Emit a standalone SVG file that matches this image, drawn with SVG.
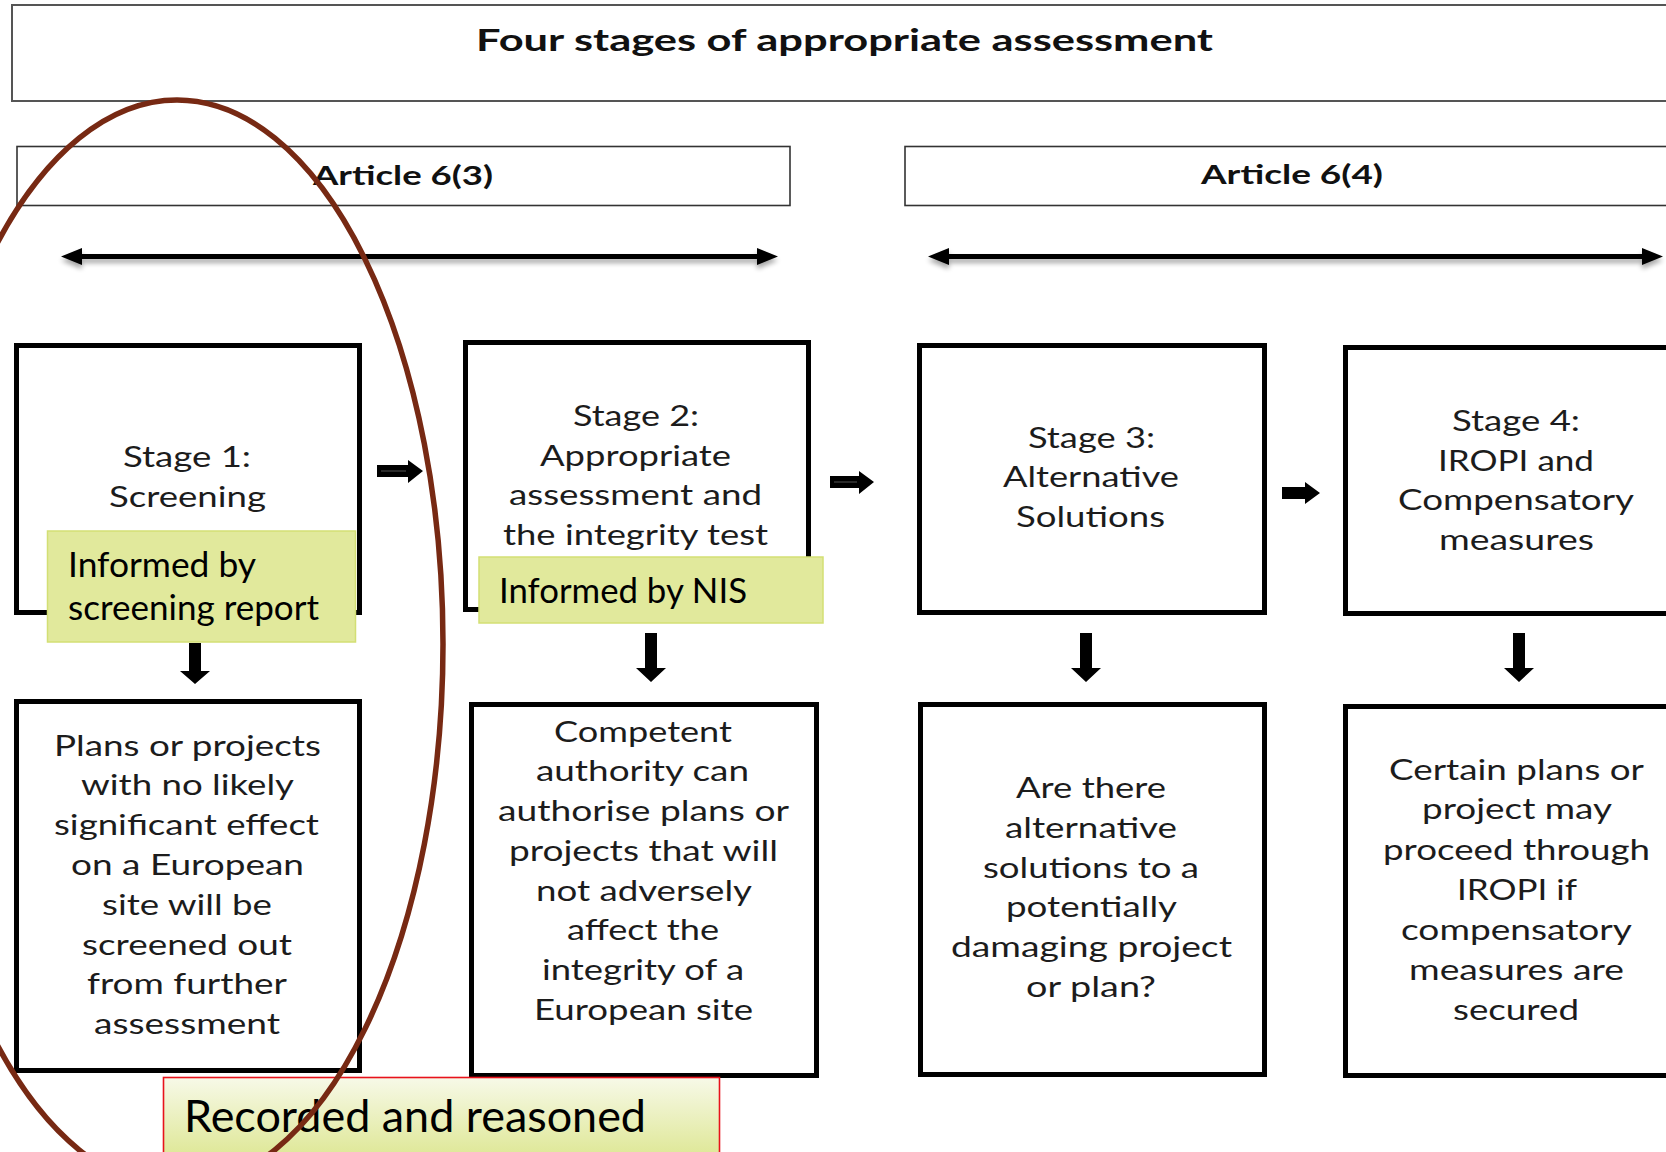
<svg xmlns="http://www.w3.org/2000/svg" width="1666" height="1152" viewBox="0 0 1666 1152">
<defs>
<style>
.frame{fill:#fff;stroke:#555;stroke-width:2}
.art{fill:#fff;stroke:#333;stroke-width:1.6}
.box{fill:#fff;stroke:#000;stroke-width:5}
.t{font-family:Lato,"Open Sans","Liberation Sans",sans-serif;font-size:28px;fill:#1c1c1c}
.b{font-family:Lato,"Open Sans","Liberation Sans",sans-serif;font-weight:bold;fill:#111}
.g{font-family:Lato,"Open Sans","Liberation Sans",sans-serif;fill:#000}
.note{fill:#e1e99c;stroke:#d3df74;stroke-width:1.5}
.arr{fill:#000}
</style>
<linearGradient id="grad" x1="0" y1="0" x2="0" y2="1">
<stop offset="0" stop-color="#f7f9e8"/>
<stop offset="1" stop-color="#dbe58b"/>
</linearGradient>
<filter id="sh" x="-5%" y="-100%" width="110%" height="300%">
<feGaussianBlur in="SourceAlpha" stdDeviation="2.5"/>
<feOffset dy="4" result="o"/>
<feComponentTransfer><feFuncA type="linear" slope="0.35"/></feComponentTransfer>
<feMerge><feMergeNode/><feMergeNode in="SourceGraphic"/></feMerge>
</filter>
</defs>
<rect width="1666" height="1152" fill="#fff"/>

<g id="title">
<rect class="frame" x="12" y="5" width="1670" height="96"/>
<text class="b" x="476" y="51" font-size="31" textLength="737" lengthAdjust="spacingAndGlyphs">Four stages of appropriate assessment</text>
</g>

<g id="article63">
<rect class="art" x="17" y="146.5" width="773" height="59"/>
<text class="b" x="313" y="185" font-size="26" textLength="180" lengthAdjust="spacingAndGlyphs">Article 6(3)</text>
</g>
<g id="article64">
<rect class="art" x="905" y="146.5" width="780" height="59"/>
<text class="b" x="1201" y="184" font-size="26" textLength="182" lengthAdjust="spacingAndGlyphs">Article 6(4)</text>
</g>

<g id="connectors">
<g filter="url(#sh)">
<line x1="76" y1="256.5" x2="764" y2="256.5" stroke="#000" stroke-width="5"/>
<polygon class="arr" points="61,256.5 82,248 82,265"/>
<polygon class="arr" points="778,256.5 757,248 757,265"/>
<line x1="943" y1="256.5" x2="1648" y2="256.5" stroke="#000" stroke-width="5"/>
<polygon class="arr" points="928,256.5 949,248 949,265"/>
<polygon class="arr" points="1663,256.5 1642,248 1642,265"/>
</g>
<polygon class="arr" points="377,465 408,465 408,460 423,471 408,483 408,477 377,477"/>
<line x1="381" y1="471" x2="406" y2="471" stroke="#555" stroke-width="1"/>
<polygon class="arr" points="830,476 859,476 859,471 874,482 859,494 859,488 830,488"/>
<line x1="834" y1="482" x2="857" y2="482" stroke="#555" stroke-width="1"/>
<polygon class="arr" points="1282,487 1305,487 1305,482 1320,493 1305,504 1305,499 1282,499"/>
<polygon class="arr" points="189,643 201,643 201,671 210,671 195,684 180,671 189,671"/>
<polygon class="arr" points="645,633 657,633 657,668 666,668 651,682 636,668 645,668"/>
<polygon class="arr" points="1080,633 1092,633 1092,668 1101,668 1086,682 1071,668 1080,668"/>
<polygon class="arr" points="1513,633 1525,633 1525,668 1534,668 1519,682 1504,668 1513,668"/>
</g>

<g id="stage1">
<rect class="box" x="16.5" y="345.5" width="343" height="267"/>
<text class="t" x="123" y="467" textLength="128" lengthAdjust="spacingAndGlyphs">Stage 1:</text>
<text class="t" x="109" y="507" textLength="157" lengthAdjust="spacingAndGlyphs">Screening</text>
</g>
<g id="stage2">
<rect class="box" x="465.5" y="342.5" width="343" height="267"/>
<text class="t" x="573" y="426" textLength="126" lengthAdjust="spacingAndGlyphs">Stage 2:</text>
<text class="t" x="540" y="466" textLength="191" lengthAdjust="spacingAndGlyphs">Appropriate</text>
<text class="t" x="509" y="505" textLength="253" lengthAdjust="spacingAndGlyphs">assessment and</text>
<text class="t" x="503" y="545" textLength="265" lengthAdjust="spacingAndGlyphs">the integrity test</text>
</g>
<g id="stage3">
<rect class="box" x="919.5" y="345.5" width="345" height="267"/>
<text class="t" x="1028" y="448" textLength="127" lengthAdjust="spacingAndGlyphs">Stage 3:</text>
<text class="t" x="1003" y="487" textLength="176" lengthAdjust="spacingAndGlyphs">Alternative</text>
<text class="t" x="1016" y="527" textLength="149" lengthAdjust="spacingAndGlyphs">Solutions</text>
</g>
<g id="stage4">
<rect class="box" x="1345.5" y="347.5" width="345" height="266"/>
<text class="t" x="1452" y="431" textLength="128" lengthAdjust="spacingAndGlyphs">Stage 4:</text>
<text class="t" x="1438" y="471" textLength="156" lengthAdjust="spacingAndGlyphs">IROPI and</text>
<text class="t" x="1398" y="510" textLength="236" lengthAdjust="spacingAndGlyphs">Compensatory</text>
<text class="t" x="1439" y="550" textLength="155" lengthAdjust="spacingAndGlyphs">measures</text>
</g>

<g id="note1">
<rect class="note" x="47.5" y="531" width="308" height="111"/>
<text class="g" x="68" y="577" font-size="35" textLength="188" lengthAdjust="spacingAndGlyphs">Informed by</text>
<text class="g" x="68" y="620" font-size="35" textLength="251" lengthAdjust="spacingAndGlyphs">screening report</text>
</g>
<g id="note2">
<rect class="note" x="479" y="557" width="344" height="66"/>
<text class="g" x="499" y="603" font-size="35" textLength="248" lengthAdjust="spacingAndGlyphs">Informed by NIS</text>
</g>

<g id="outcome1">
<rect class="box" x="16.5" y="701.5" width="343" height="369"/>
<text class="t" x="54" y="756" textLength="267" lengthAdjust="spacingAndGlyphs">Plans or projects</text>
<text class="t" x="81" y="795" textLength="213" lengthAdjust="spacingAndGlyphs">with no likely</text>
<text class="t" x="54" y="835" textLength="265" lengthAdjust="spacingAndGlyphs">significant effect</text>
<text class="t" x="71" y="875" textLength="233" lengthAdjust="spacingAndGlyphs">on a European</text>
<text class="t" x="102" y="915" textLength="170" lengthAdjust="spacingAndGlyphs">site will be</text>
<text class="t" x="82" y="955" textLength="210" lengthAdjust="spacingAndGlyphs">screened out</text>
<text class="t" x="87" y="994" textLength="200" lengthAdjust="spacingAndGlyphs">from further</text>
<text class="t" x="94" y="1034" textLength="186" lengthAdjust="spacingAndGlyphs">assessment</text>
</g>
<g id="outcome2">
<rect class="box" x="471.5" y="704.5" width="345" height="371"/>
<text class="t" x="554" y="742" textLength="178" lengthAdjust="spacingAndGlyphs">Competent</text>
<text class="t" x="536" y="781" textLength="213" lengthAdjust="spacingAndGlyphs">authority can</text>
<text class="t" x="498" y="821" textLength="291" lengthAdjust="spacingAndGlyphs">authorise plans or</text>
<text class="t" x="509" y="861" textLength="269" lengthAdjust="spacingAndGlyphs">projects that will</text>
<text class="t" x="536" y="901" textLength="216" lengthAdjust="spacingAndGlyphs">not adversely</text>
<text class="t" x="567" y="940" textLength="152" lengthAdjust="spacingAndGlyphs">affect the</text>
<text class="t" x="542" y="980" textLength="202" lengthAdjust="spacingAndGlyphs">integrity of a</text>
<text class="t" x="534" y="1020" textLength="219" lengthAdjust="spacingAndGlyphs">European site</text>
</g>
<g id="outcome3">
<rect class="box" x="920.5" y="704.5" width="344" height="370"/>
<text class="t" x="1016" y="798" textLength="150" lengthAdjust="spacingAndGlyphs">Are there</text>
<text class="t" x="1005" y="838" textLength="172" lengthAdjust="spacingAndGlyphs">alternative</text>
<text class="t" x="983" y="878" textLength="216" lengthAdjust="spacingAndGlyphs">solutions to a</text>
<text class="t" x="1006" y="917" textLength="171" lengthAdjust="spacingAndGlyphs">potentially</text>
<text class="t" x="951" y="957" textLength="281" lengthAdjust="spacingAndGlyphs">damaging project</text>
<text class="t" x="1026" y="997" textLength="130" lengthAdjust="spacingAndGlyphs">or plan?</text>
</g>
<g id="outcome4">
<rect class="box" x="1345.5" y="706.5" width="345" height="369"/>
<text class="t" x="1389" y="780" textLength="255" lengthAdjust="spacingAndGlyphs">Certain plans or</text>
<text class="t" x="1422" y="819" textLength="190" lengthAdjust="spacingAndGlyphs">project may</text>
<text class="t" x="1383" y="860" textLength="267" lengthAdjust="spacingAndGlyphs">proceed through</text>
<text class="t" x="1457" y="900" textLength="120" lengthAdjust="spacingAndGlyphs">IROPI if</text>
<text class="t" x="1401" y="940" textLength="231" lengthAdjust="spacingAndGlyphs">compensatory</text>
<text class="t" x="1409" y="980" textLength="215" lengthAdjust="spacingAndGlyphs">measures are</text>
<text class="t" x="1453" y="1020" textLength="126" lengthAdjust="spacingAndGlyphs">secured</text>
</g>

<g id="recorded">
<rect x="163.5" y="1077.5" width="556" height="90" fill="url(#grad)" stroke="#e8121b" stroke-width="1.6"/>
<text class="g" x="184" y="1132" font-size="45" textLength="462" lengthAdjust="spacingAndGlyphs">Recorded and reasoned</text>
</g>

<g id="highlight">
<ellipse cx="177" cy="644" rx="266" ry="544" fill="none" stroke="#772913" stroke-width="5.5"/>
</g>
</svg>
